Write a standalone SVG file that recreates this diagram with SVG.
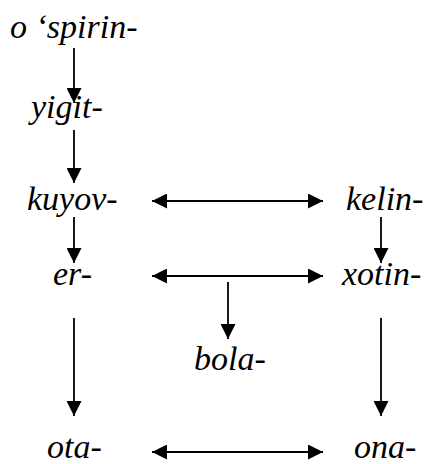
<svg xmlns="http://www.w3.org/2000/svg" width="435" height="464" viewBox="0 0 435 464">
  <style>
    .ln { stroke: #000; stroke-width: 1.8; fill: none; }
  </style>
  <defs>
    <marker id="tip" viewBox="0 0 12 12" refX="12" refY="6" markerWidth="15" markerHeight="15" markerUnits="userSpaceOnUse" orient="auto-start-reverse">
      <path d="M0,0 L12,6 L0,12 Z" fill="#000"/>
    </marker>
  </defs>
  <rect width="435" height="464" fill="#fff"/>

  <g id="connectors">
    <!-- left column -->
    <line class="ln" x1="74" y1="48" x2="74" y2="103" marker-end="url(#tip)"/>
    <line class="ln" x1="74" y1="130" x2="74" y2="183" marker-end="url(#tip)"/>
    <line class="ln" x1="74" y1="217" x2="74" y2="263" marker-end="url(#tip)"/>
    <line class="ln" x1="74" y1="318" x2="74" y2="416" marker-end="url(#tip)"/>
    <!-- right column -->
    <line class="ln" x1="381" y1="217" x2="381" y2="263" marker-end="url(#tip)"/>
    <line class="ln" x1="381" y1="318" x2="381" y2="416" marker-end="url(#tip)"/>
    <!-- middle -->
    <line class="ln" x1="228" y1="282" x2="228" y2="339" marker-end="url(#tip)"/>
    <!-- horizontal two-way links -->
    <line class="ln" x1="152" y1="201" x2="323" y2="201" marker-start="url(#tip)" marker-end="url(#tip)"/>
    <line class="ln" x1="152" y1="276" x2="323" y2="276" marker-start="url(#tip)" marker-end="url(#tip)"/>
    <line class="ln" x1="152" y1="452" x2="323" y2="452" marker-start="url(#tip)" marker-end="url(#tip)"/>
  </g>

  <g font-family="Liberation Serif, serif" font-style="italic" font-size="34" fill="#000">
    <g id="n-ospirin"><text x="10" y="38">o ‘spirin-</text></g>
    <g id="n-yigit"><text x="31" y="118">yigit-</text></g>
    <g id="n-kuyov"><text x="27" y="210">kuyov-</text></g>
    <g id="n-er"><text x="53" y="285">er-</text></g>
    <g id="n-ota"><text x="47" y="458">ota-</text></g>
    <g id="n-kelin"><text x="346" y="210">kelin-</text></g>
    <g id="n-xotin"><text x="342" y="285">xotin-</text></g>
    <g id="n-ona"><text x="354" y="458">ona-</text></g>
    <g id="n-bola"><text x="194" y="370">bola-</text></g>
  </g>
</svg>
